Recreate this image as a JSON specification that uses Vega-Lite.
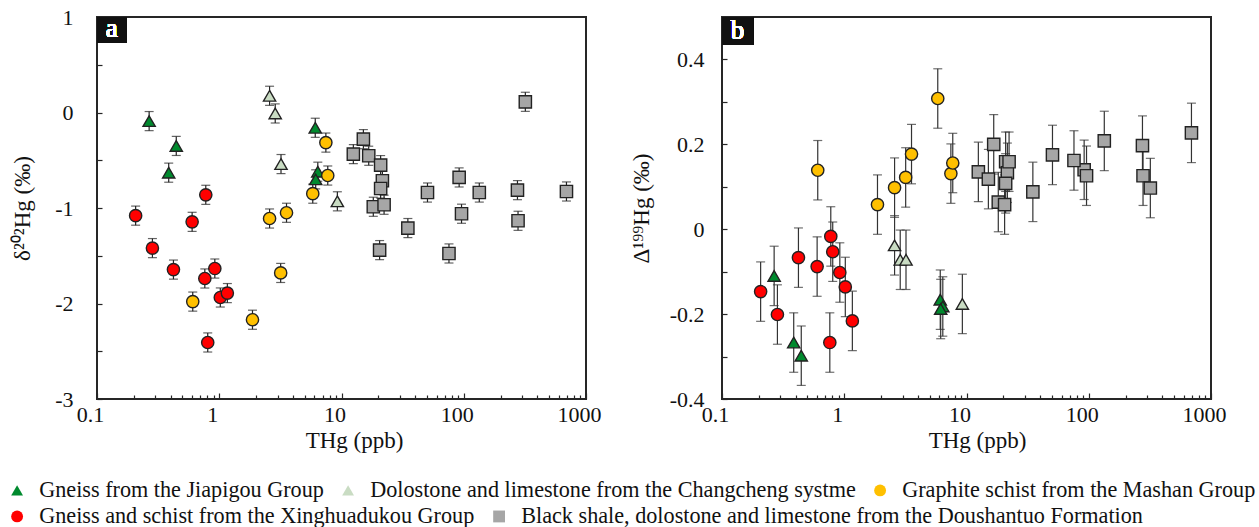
{
  "$schema": "https://vega.github.io/schema/vega-lite/v6.json",
  "padding": {"top": 5, "left": 5, "right": 2, "bottom": 2},
  "datasets": {
    "samples": [
      {"group": "Gneiss from the Jiapigou Group", "thg": 0.267, "d202": -0.09, "e202": 0.1, "D199": -0.11, "e199": 0.07},
      {"group": "Gneiss from the Jiapigou Group", "thg": 0.445, "d202": -0.35, "e202": 0.1, "D199": -0.298, "e199": 0.07},
      {"group": "Gneiss from the Jiapigou Group", "thg": 0.386, "d202": -0.63, "e202": 0.1, "D199": -0.267, "e199": 0.07},
      {"group": "Gneiss from the Jiapigou Group", "thg": 6.1, "d202": -0.16, "e202": 0.1, "D199": -0.166, "e199": 0.07},
      {"group": "Gneiss from the Jiapigou Group", "thg": 6.4, "d202": -0.62, "e202": 0.1, "D199": -0.182, "e199": 0.07},
      {"group": "Gneiss from the Jiapigou Group", "thg": 6.15, "d202": -0.7, "e202": 0.1, "D199": -0.188, "e199": 0.07},
      {"group": "Dolostone and limestone from the Changcheng systme", "thg": 2.58, "d202": 0.175, "e202": 0.1, "D199": -0.038, "e199": 0.07},
      {"group": "Dolostone and limestone from the Changcheng systme", "thg": 2.87, "d202": -0.01, "e202": 0.1, "D199": -0.072, "e199": 0.07},
      {"group": "Dolostone and limestone from the Changcheng systme", "thg": 3.2, "d202": -0.54, "e202": 0.1, "D199": -0.072, "e199": 0.07},
      {"group": "Dolostone and limestone from the Changcheng systme", "thg": 9.25, "d202": -0.93, "e202": 0.1, "D199": -0.176, "e199": 0.07},
      {"group": "Graphite schist from the Mashan Group", "thg": 0.607, "d202": -1.98, "e202": 0.1, "D199": 0.139, "e199": 0.07},
      {"group": "Graphite schist from the Mashan Group", "thg": 1.87, "d202": -2.17, "e202": 0.1, "D199": 0.058, "e199": 0.07},
      {"group": "Graphite schist from the Mashan Group", "thg": 2.58, "d202": -1.11, "e202": 0.1, "D199": 0.098, "e199": 0.07},
      {"group": "Graphite schist from the Mashan Group", "thg": 3.55, "d202": -1.05, "e202": 0.1, "D199": 0.177, "e199": 0.07},
      {"group": "Graphite schist from the Mashan Group", "thg": 3.18, "d202": -1.68, "e202": 0.1, "D199": 0.122, "e199": 0.07},
      {"group": "Graphite schist from the Mashan Group", "thg": 5.82, "d202": -0.85, "e202": 0.1, "D199": 0.308, "e199": 0.07},
      {"group": "Graphite schist from the Mashan Group", "thg": 7.45, "d202": -0.315, "e202": 0.1, "D199": 0.131, "e199": 0.07},
      {"group": "Graphite schist from the Mashan Group", "thg": 7.72, "d202": -0.66, "e202": 0.1, "D199": 0.156, "e199": 0.07},
      {"group": "Gneiss and schist from the Xinghuadukou Group", "thg": 0.207, "d202": -1.08, "e202": 0.1, "D199": -0.147, "e199": 0.07},
      {"group": "Gneiss and schist from the Xinghuadukou Group", "thg": 0.284, "d202": -1.42, "e202": 0.1, "D199": -0.201, "e199": 0.07},
      {"group": "Gneiss and schist from the Xinghuadukou Group", "thg": 0.422, "d202": -1.645, "e202": 0.1, "D199": -0.067, "e199": 0.07},
      {"group": "Gneiss and schist from the Xinghuadukou Group", "thg": 0.6, "d202": -1.145, "e202": 0.1, "D199": -0.088, "e199": 0.07},
      {"group": "Gneiss and schist from the Xinghuadukou Group", "thg": 0.776, "d202": -0.862, "e202": 0.1, "D199": -0.017, "e199": 0.07},
      {"group": "Gneiss and schist from the Xinghuadukou Group", "thg": 0.762, "d202": -1.738, "e202": 0.1, "D199": -0.267, "e199": 0.07},
      {"group": "Gneiss and schist from the Xinghuadukou Group", "thg": 0.92, "d202": -1.634, "e202": 0.1, "D199": -0.102, "e199": 0.07},
      {"group": "Gneiss and schist from the Xinghuadukou Group", "thg": 0.805, "d202": -2.408, "e202": 0.1, "D199": -0.053, "e199": 0.07},
      {"group": "Gneiss and schist from the Xinghuadukou Group", "thg": 1.02, "d202": -1.937, "e202": 0.1, "D199": -0.136, "e199": 0.07},
      {"group": "Gneiss and schist from the Xinghuadukou Group", "thg": 1.165, "d202": -1.891, "e202": 0.1, "D199": -0.216, "e199": 0.07},
      {"group": "Black shale, dolostone and limestone from the Doushantuo Formation", "thg": 12.5, "d202": -0.436, "e202": 0.1, "D199": 0.135, "e199": 0.07},
      {"group": "Black shale, dolostone and limestone from the Doushantuo Formation", "thg": 15.1, "d202": -0.279, "e202": 0.1, "D199": 0.118, "e199": 0.07},
      {"group": "Black shale, dolostone and limestone from the Doushantuo Formation", "thg": 16.7, "d202": -0.453, "e202": 0.1, "D199": 0.2, "e199": 0.07},
      {"group": "Black shale, dolostone and limestone from the Doushantuo Formation", "thg": 20.9, "d202": -0.551, "e202": 0.1, "D199": 0.159, "e199": 0.07},
      {"group": "Black shale, dolostone and limestone from the Doushantuo Formation", "thg": 21.6, "d202": -0.715, "e202": 0.1, "D199": 0.133, "e199": 0.07},
      {"group": "Black shale, dolostone and limestone from the Doushantuo Formation", "thg": 20.9, "d202": -0.796, "e202": 0.1, "D199": 0.108, "e199": 0.07},
      {"group": "Black shale, dolostone and limestone from the Doushantuo Formation", "thg": 18.2, "d202": -0.987, "e202": 0.1, "D199": 0.064, "e199": 0.07},
      {"group": "Black shale, dolostone and limestone from the Doushantuo Formation", "thg": 22.3, "d202": -0.966, "e202": 0.1, "D199": 0.159, "e199": 0.07},
      {"group": "Black shale, dolostone and limestone from the Doushantuo Formation", "thg": 20.5, "d202": -1.441, "e202": 0.1, "D199": 0.058, "e199": 0.07},
      {"group": "Black shale, dolostone and limestone from the Doushantuo Formation", "thg": 34.9, "d202": -1.21, "e202": 0.1, "D199": 0.088, "e199": 0.07},
      {"group": "Black shale, dolostone and limestone from the Doushantuo Formation", "thg": 50.5, "d202": -0.838, "e202": 0.1, "D199": 0.175, "e199": 0.07},
      {"group": "Black shale, dolostone and limestone from the Doushantuo Formation", "thg": 91.7, "d202": -0.68, "e202": 0.1, "D199": 0.14, "e199": 0.07},
      {"group": "Black shale, dolostone and limestone from the Doushantuo Formation", "thg": 95.9, "d202": -1.06, "e202": 0.1, "D199": 0.126, "e199": 0.07},
      {"group": "Black shale, dolostone and limestone from the Doushantuo Formation", "thg": 75.7, "d202": -1.476, "e202": 0.1, "D199": 0.162, "e199": 0.07},
      {"group": "Black shale, dolostone and limestone from the Doushantuo Formation", "thg": 134, "d202": -0.838, "e202": 0.1, "D199": 0.208, "e199": 0.07},
      {"group": "Black shale, dolostone and limestone from the Doushantuo Formation", "thg": 275, "d202": -0.813, "e202": 0.1, "D199": 0.197, "e199": 0.07},
      {"group": "Black shale, dolostone and limestone from the Doushantuo Formation", "thg": 278, "d202": -1.134, "e202": 0.1, "D199": 0.126, "e199": 0.07},
      {"group": "Black shale, dolostone and limestone from the Doushantuo Formation", "thg": 319, "d202": 0.112, "e202": 0.1, "D199": 0.097, "e199": 0.07},
      {"group": "Black shale, dolostone and limestone from the Doushantuo Formation", "thg": 692, "d202": -0.827, "e202": 0.1, "D199": 0.227, "e199": 0.07}
    ]
  },
  "hconcat": [
    {
      "width": 489,
      "height": 382,
      "data": {"name": "samples"},
      "layer": [
        {
          "mark": {"type": "errorbar", "ticks": true, "size": 9, "thickness": 1.2, "color": "#222"},
          "encoding": {
            "x": {"field": "thg", "type": "quantitative", "scale": {"type": "log", "domain": [0.1, 1000], "nice": false},
              "axis": {"title": "THg (ppb)", "values": [0.1,0.2,0.3,0.4,0.5,0.6,0.7,0.8,0.9,1,2,3,4,5,6,7,8,9,10,20,30,40,50,60,70,80,90,100,200,300,400,500,600,700,800,900,1000],
                "labelExpr": "datum.value == 0.1 ? '0.1' : datum.value == 1 ? '1' : datum.value == 10 ? '10' : datum.value == 100 ? '100' : datum.value == 1000 ? '1000' : ''",
                "tickSize": {"condition": {"test": "indexof([0.1,1,10,100,1000], datum.value) >= 0", "value": -6}, "value": -4},
                "labelPadding": 11, "labelOffset": -7, "titleX": 257, "titleY": 30}},
            "y": {"field": "d202", "type": "quantitative", "scale": {"domain": [-3, 1], "nice": false, "zero": false},
              "axis": {"title": "δ²⁰²Hg (‰)", "values": [-3,-2.5,-2,-1.5,-1,-0.5,0,0.5,1],
                "labelExpr": "datum.value % 1 == 0 ? replace(format(datum.value, 'd'), '−', '-') : ''",
                "tickSize": -5, "labelPadding": 29, "titlePadding": 20}},
            "yError": {"field": "e202"}
          }
        },
        {
          "mark": {"type": "point", "filled": true, "opacity": 1, "stroke": "#222", "strokeWidth": 1.4, "size": 150},
          "encoding": {
            "x": {"field": "thg", "type": "quantitative"},
            "y": {"field": "d202", "type": "quantitative"},
            "fill": {"field": "group", "type": "nominal", "title": null,
              "scale": {"domain": ["Gneiss from the Jiapigou Group", "Dolostone and limestone from the Changcheng systme", "Graphite schist from the Mashan Group", "Gneiss and schist from the Xinghuadukou Group", "Black shale, dolostone and limestone from the Doushantuo Formation"],
                "range": ["#008a2e", "#c9dcc3", "#ffc000", "#ff0000", "#a6a6a6"]},
              "legend": {"orient": "none", "legendX": -91, "legendY": 462, "direction": "horizontal", "columns": 3,
                "values": ["Gneiss from the Jiapigou Group", "Dolostone and limestone from the Changcheng systme", "Graphite schist from the Mashan Group"],
                "labelOffset": 11, "columnPadding": 13}},
            "shape": {"field": "group", "type": "nominal", "title": null,
              "scale": {"domain": ["Gneiss from the Jiapigou Group", "Dolostone and limestone from the Changcheng systme", "Graphite schist from the Mashan Group", "Gneiss and schist from the Xinghuadukou Group", "Black shale, dolostone and limestone from the Doushantuo Formation"],
                "range": ["triangle-up", "triangle-up", "circle", "circle", "square"]},
              "legend": {"orient": "none", "legendX": -91, "legendY": 462, "direction": "horizontal", "columns": 3,
                "values": ["Gneiss from the Jiapigou Group", "Dolostone and limestone from the Changcheng systme", "Graphite schist from the Mashan Group"],
                "labelOffset": 11, "columnPadding": 13}}
          }
        },
        {
          "mark": {"type": "rect", "color": "#111"},
          "encoding": {
            "x": {"datum": 0.1, "type": "quantitative"},
            "x2": {"datum": 0.175},
            "y": {"datum": 1, "type": "quantitative"},
            "y2": {"datum": 0.73}
          }
        },
        {
          "mark": {"type": "text", "color": "white", "font": "Liberation Serif", "fontSize": 27, "baseline": "middle", "align": "center"},
          "encoding": {
            "x": {"datum": 0.132, "type": "quantitative"},
            "y": {"datum": 0.87, "type": "quantitative"},
            "text": {"value": "a"}
          }
        }
      ]
    },
    {
      "width": 489,
      "height": 382,
      "data": {"name": "samples"},
      "layer": [
        {
          "mark": {"type": "errorbar", "ticks": true, "size": 9, "thickness": 1.2, "color": "#333"},
          "encoding": {
            "x": {"field": "thg", "type": "quantitative", "scale": {"type": "log", "domain": [0.1, 1000], "nice": false},
              "axis": {"title": "THg (ppb)", "values": [0.1,0.2,0.3,0.4,0.5,0.6,0.7,0.8,0.9,1,2,3,4,5,6,7,8,9,10,20,30,40,50,60,70,80,90,100,200,300,400,500,600,700,800,900,1000],
                "labelExpr": "datum.value == 0.1 ? '0.1' : datum.value == 1 ? '1' : datum.value == 10 ? '10' : datum.value == 100 ? '100' : datum.value == 1000 ? '1000' : ''",
                "tickSize": {"condition": {"test": "indexof([0.1,1,10,100,1000], datum.value) >= 0", "value": -6}, "value": -4},
                "labelPadding": 11, "labelOffset": -7, "titleX": 255, "titleY": 30}},
            "y": {"field": "D199", "type": "quantitative", "scale": {"domain": [-0.4, 0.5], "nice": false, "zero": false},
              "axis": {"title": "Δ¹⁹⁹Hg (‰)", "values": [-0.4,-0.3,-0.2,-0.1,0,0.1,0.2,0.3,0.4],
                "labelExpr": "datum.value == 0 ? '0' : abs(round(datum.value * 10)) % 2 == 0 ? replace(format(datum.value, '.1f'), '−', '-') : ''",
                "tickSize": -5, "labelPadding": 23, "titlePadding": 16}},
            "yError": {"field": "e199"}
          }
        },
        {
          "mark": {"type": "point", "filled": true, "opacity": 1, "stroke": "#222", "strokeWidth": 1.4, "size": 150},
          "encoding": {
            "x": {"field": "thg", "type": "quantitative"},
            "y": {"field": "D199", "type": "quantitative"},
            "fill": {"field": "group", "type": "nominal", "title": null,
              "legend": {"orient": "none", "legendX": -716, "legendY": 488, "direction": "horizontal", "columns": 2,
                "values": ["Gneiss and schist from the Xinghuadukou Group", "Black shale, dolostone and limestone from the Doushantuo Formation"],
                "labelOffset": 11, "columnPadding": 13}},
            "shape": {"field": "group", "type": "nominal", "title": null,
              "legend": {"orient": "none", "legendX": -716, "legendY": 488, "direction": "horizontal", "columns": 2,
                "values": ["Gneiss and schist from the Xinghuadukou Group", "Black shale, dolostone and limestone from the Doushantuo Formation"],
                "labelOffset": 11, "columnPadding": 13}}
          }
        },
        {
          "mark": {"type": "rect", "color": "#111"},
          "encoding": {
            "x": {"datum": 0.1, "type": "quantitative"},
            "x2": {"datum": 0.18},
            "y": {"datum": 0.5, "type": "quantitative"},
            "y2": {"datum": 0.434}
          }
        },
        {
          "mark": {"type": "text", "color": "white", "font": "Liberation Serif", "fontSize": 27, "baseline": "middle", "align": "center"},
          "encoding": {
            "x": {"datum": 0.134, "type": "quantitative"},
            "y": {"datum": 0.467, "type": "quantitative"},
            "text": {"value": "b"}
          }
        }
      ]
    }
  ],
  "spacing": 136,
  "bounds": "flush",
  "resolve": {"scale": {"fill": "shared", "shape": "shared"}, "legend": {"fill": "independent", "shape": "independent"}},
  "config": {
    "font": "Liberation Serif",
    "view": {"stroke": "#262626", "strokeWidth": 2},
    "axis": {"domain": false, "grid": false, "labelFont": "Liberation Serif", "labelFontSize": 22, "labelColor": "#111",
      "titleFont": "Liberation Serif", "titleFontSize": 23, "titleFontWeight": "normal", "titleColor": "#111",
      "tickColor": "#262626", "tickWidth": 1.2, "labelOverlap": false, "labelBound": false, "labelFlush": false},
    "legend": {"labelFont": "Liberation Serif", "labelFontSize": 22.2, "labelColor": "#111", "labelLimit": 0,
      "symbolSize": 140, "symbolStrokeColor": "#222", "symbolStrokeWidth": 1}
  }
}
